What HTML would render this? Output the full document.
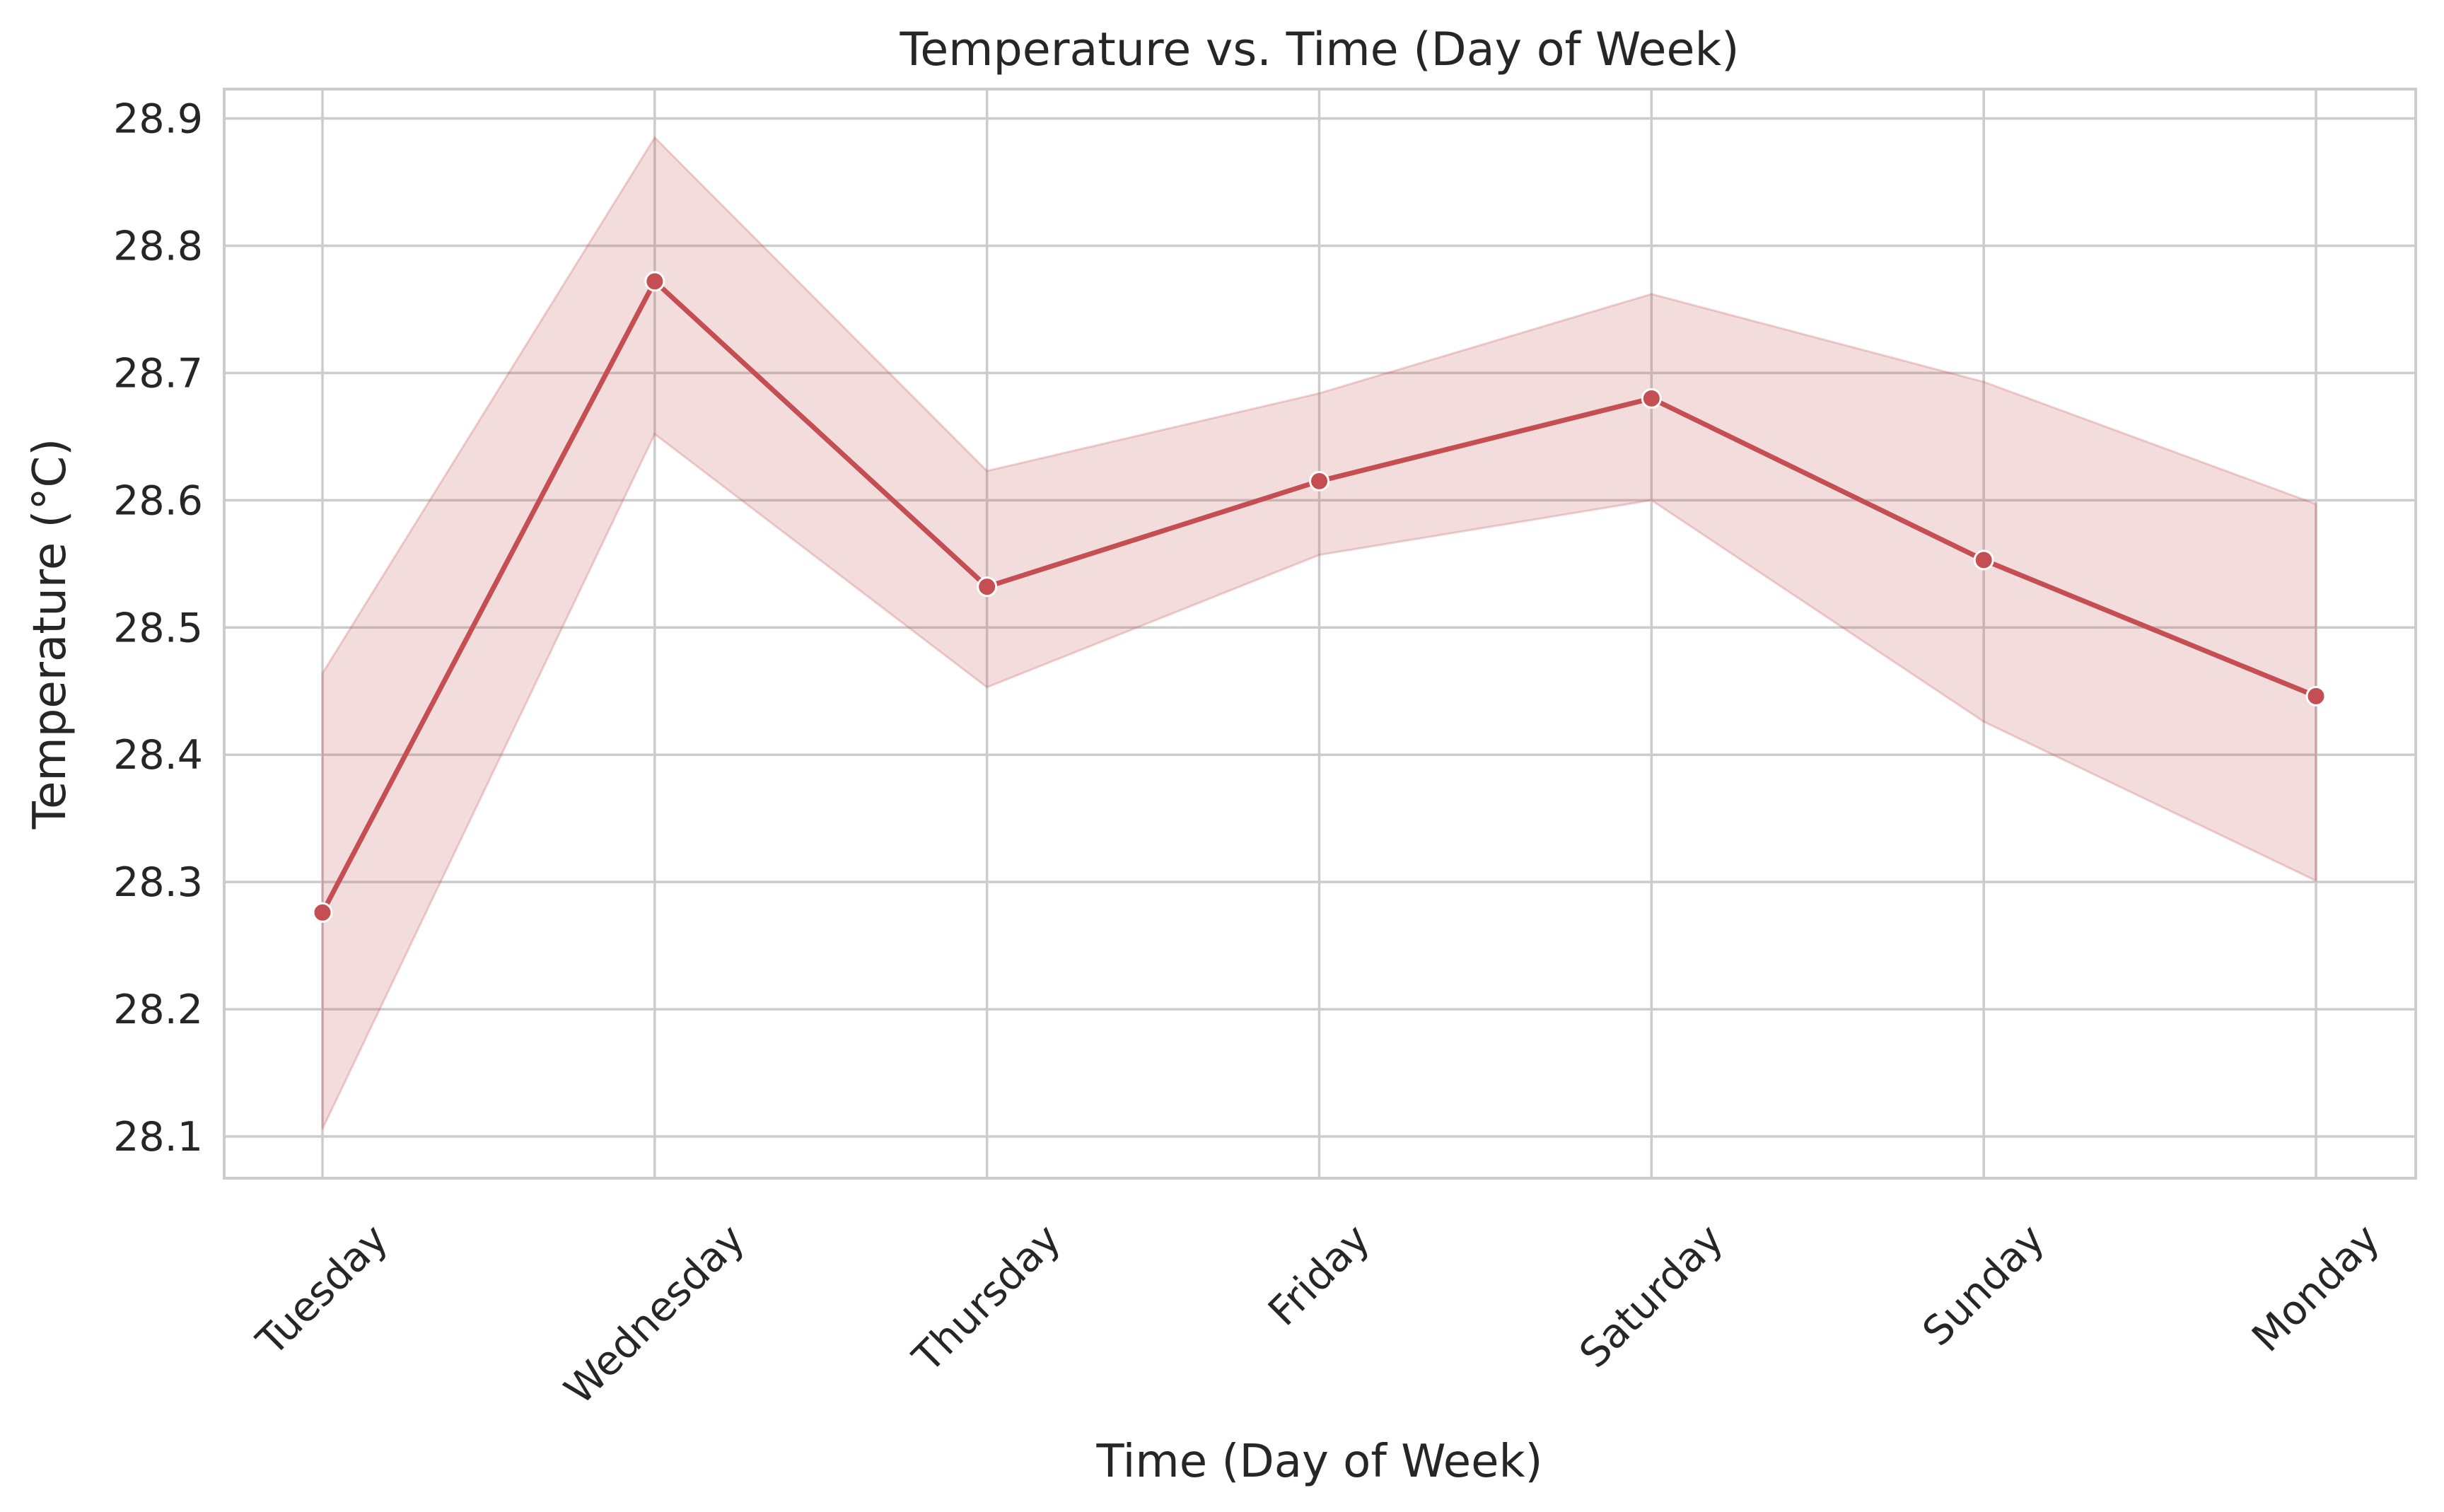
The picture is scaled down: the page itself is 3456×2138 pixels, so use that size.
<!DOCTYPE html>
<html><head><meta charset="utf-8"><style>
html,body{margin:0;padding:0;background:#fff;}
svg{display:block;font-family:"DejaVu Sans","Liberation Sans",sans-serif;}
</style></head><body>
<svg id="chart" width="3456" height="2138" viewBox="0 0 3456 2138">
<rect width="3456" height="2138" fill="#fff"/>
<g id="grid"></g><g id="band"></g><g id="series"></g><g id="axes"></g>
<text x="1866" y="92" text-anchor="middle" font-size="65" fill="#262626">Temperature vs. Time (Day of Week)</text>
<text x="1866" y="2088" text-anchor="middle" font-size="64" fill="#262626">Time (Day of Week)</text>
<text x="92" y="896" text-anchor="middle" font-size="64" fill="#262626" transform="rotate(-90 92 896)">Temperature (°C)</text>
</svg>
<script>
const categories=["Tuesday","Wednesday","Thursday","Friday","Saturday","Sunday","Monday"];
const meanValues=[28.276,28.772,28.532,28.615,28.680,28.553,28.446];
const upperValues=[28.464,28.885,28.623,28.684,28.762,28.693,28.597];
const lowerValues=[28.106,28.652,28.453,28.557,28.600,28.426,28.301];
const yTicks=[28.1,28.2,28.3,28.4,28.5,28.6,28.7,28.8,28.9];
const NS="http://www.w3.org/2000/svg";
const L=317,R=3416,T=126,B=1666;
const xPos=i=>456+i*(3275-456)/(categories.length-1);
const yPos=v=>1607-(v-28.1)*(1607-167.5)/0.8;
function mk(tag,attrs,parent){const e=document.createElementNS(NS,tag);for(const k in attrs)e.setAttribute(k,attrs[k]);parent.appendChild(e);return e;}
const grid=document.getElementById('grid'),band=document.getElementById('band'),series=document.getElementById('series'),axes=document.getElementById('axes');
const FS=57;
yTicks.forEach(v=>{
 const g=mk('line',{x1:L,x2:R,y1:yPos(v),y2:yPos(v),stroke:'#cccccc','stroke-width':3.5},grid);
 
 
 const t=mk('text',{x:L-30,y:yPos(v)+20,'text-anchor':'end','font-size':FS,fill:'#262626'},axes);
 t.textContent=v.toFixed(1);
 
 
});
categories.forEach((c,i)=>{
 const g=mk('line',{x1:xPos(i),x2:xPos(i),y1:T,y2:B,stroke:'#cccccc','stroke-width':3.5},grid);
 
 
 const x=xPos(i);
 const t=mk('text',{x:x,y:0,'text-anchor':'middle','dominant-baseline':'central','font-size':FS,fill:'#262626'},axes);
 t.textContent=c;
 
 
 const len=t.getComputedTextLength();
 const y=B+58+(len*0.7071+FS*0.9*0.7071)/2;
 t.setAttribute('y',y);
 t.setAttribute('transform',`rotate(-45 ${x} ${y})`);
});
let d='';
upperValues.forEach((v,i)=>{d+=(i?'L':'M')+xPos(i)+','+yPos(v);});
for(let i=lowerValues.length-1;i>=0;i--)d+='L'+xPos(i)+','+yPos(lowerValues[i]);
d+='Z';
const b=mk('path',{d:d,fill:'#c44e52','fill-opacity':0.2,stroke:'#c44e52','stroke-opacity':0.25,'stroke-width':3},band);


const pl=mk('polyline',{points:meanValues.map((v,i)=>xPos(i)+','+yPos(v)).join(' '),fill:'none',stroke:'#c44e52','stroke-width':7,'stroke-linejoin':'round'},series);


meanValues.forEach((v,i)=>{
 const c=mk('circle',{cx:xPos(i),cy:yPos(v),r:13,fill:'#c44e52',stroke:'#fff','stroke-width':3},series);
 
 
});
const sp=mk('rect',{x:L,y:T,width:R-L,height:B-T,fill:'none',stroke:'#cccccc','stroke-width':4},axes);


</script>
</body></html>
